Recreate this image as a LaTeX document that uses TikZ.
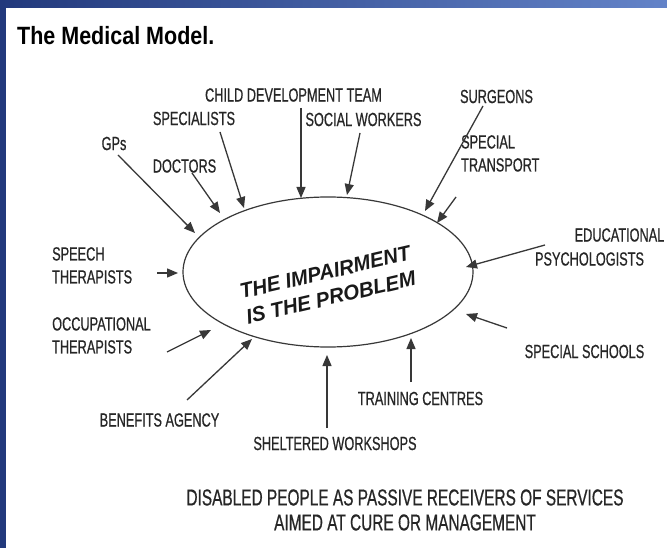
\documentclass[tikz,border=0pt]{standalone}
\usepackage{fontspec}
\setmainfont{Liberation Sans}
\newfontfamily\lblfont[FakeStretch=0.67,FakeBold=0.6]{Liberation Sans}
\newfontfamily\ttlfont[FakeStretch=0.86]{Liberation Sans}
\newfontfamily\ctrfont[FakeStretch=0.97]{Liberation Sans}
\usetikzlibrary{arrows.meta,shapes.geometric}
\definecolor{ink}{HTML}{262626}
\definecolor{lineink}{HTML}{383838}
\definecolor{navyA}{HTML}{22397C}
\definecolor{blueB}{HTML}{6383C8}
\begin{document}
\begin{tikzpicture}[x=1pt,y=-1pt,
  lbl/.style={font=\lblfont\fontsize{19}{23}\selectfont, text=ink, inner sep=0pt},
  lblml/.style={lbl, align=left, anchor=north west},
  arr/.style={draw=lineink, line width=1.3pt, -{Triangle[length=11pt,width=9pt]}},
]
\useasboundingbox (0,0) rectangle (667,548);
\fill[white] (0,0) rectangle (667,548);
\fill[navyA] (0,0) rectangle (6,548);
\shade[left color=navyA, right color=blueB] (0,0) rectangle (667,8);

% title
\node[font=\ttlfont\bfseries\fontsize{25}{30}\selectfont, text=black, inner sep=0pt, anchor=base west] (title) at (17,45) {The Medical Model.};

% central ellipse
\node[draw=lineink, line width=1.2pt, ellipse, minimum width=290pt, minimum height=150pt, inner sep=0pt] (ell) at (328,272) {};
\node[font=\ctrfont\bfseries\itshape\fontsize{21}{26}\selectfont, text=black!90, rotate=13, align=center, inner sep=0pt] (ctr) at (328,285) {THE IMPAIRMENT\\IS THE PROBLEM};

% labels
\node[lbl] (gps) at (114,143.5) {GPs};
\node[lbl] (spec) at (194,118.5) {SPECIALISTS};
\node[lbl] (doc) at (184.5,166) {DOCTORS};
\node[lbl] (cdt) at (293.5,95) {CHILD DEVELOPMENT TEAM};
\node[lbl] (sw) at (363.5,119.5) {SOCIAL WORKERS};
\node[lbl] (surg) at (496.5,96.5) {SURGEONS};
\node[lblml] (stran) at (461,135) {SPECIAL\\TRANSPORT};
\node[lbl] (educ) at (619.5,235) {EDUCATIONAL};
\node[lbl] (psych) at (589.5,259) {PSYCHOLOGISTS};
\node[lbl] (ssch) at (584.5,351.5) {SPECIAL SCHOOLS};
\node[lbl] (train) at (420.5,398.5) {TRAINING CENTRES};
\node[lbl] (shel) at (335,443.5) {SHELTERED WORKSHOPS};
\node[lbl] (ben) at (159.5,420) {BENEFITS AGENCY};
\node[lblml] (speech) at (52,247) {SPEECH\\THERAPISTS};
\node[lblml] (occ) at (52,317) {OCCUPATIONAL\\THERAPISTS};

\node[font=\lblfont\fontsize{23}{25}\selectfont, text=ink, align=center, inner sep=0pt] (bot) at (405,510) {DISABLED PEOPLE AS PASSIVE RECEIVERS OF SERVICES\\AIMED AT CURE OR MANAGEMENT};

% arrow end points
\coordinate (gpsT) at (118,155);   \coordinate (gpsH) at (195,233);
\coordinate (docT) at (192,173);   \coordinate (docH) at (220,213);
\coordinate (specT) at (220,132);  \coordinate (specH) at (244,208);
\coordinate (cdtT) at (301,108);   \coordinate (cdtH) at (301,198);
\coordinate (swT) at (360,133);    \coordinate (swH) at (347,195);
\coordinate (surgT) at (483,106);  \coordinate (surgH) at (425,211);
\coordinate (stranT) at (456,197); \coordinate (stranH) at (437,223);
\coordinate (psychT) at (545,245); \coordinate (psychH) at (466,267);
\coordinate (sschT) at (507,328);  \coordinate (sschH) at (466,314);
\coordinate (trainT) at (411,382); \coordinate (trainH) at (411,338);
\coordinate (shelT) at (327,428);  \coordinate (shelH) at (327,355);
\coordinate (benT) at (187,400);   \coordinate (benH) at (252,339);
\coordinate (occT) at (167,352);   \coordinate (occH) at (211,330);
\coordinate (speechT) at (157,273);\coordinate (speechH) at (178,273);

\foreach \n in {gps,doc,spec,cdt,sw,surg,stran,psych,ssch,train,shel,ben,occ,speech}
  \draw[arr] (\n T) -- (\n H);
\end{tikzpicture}
\end{document}
